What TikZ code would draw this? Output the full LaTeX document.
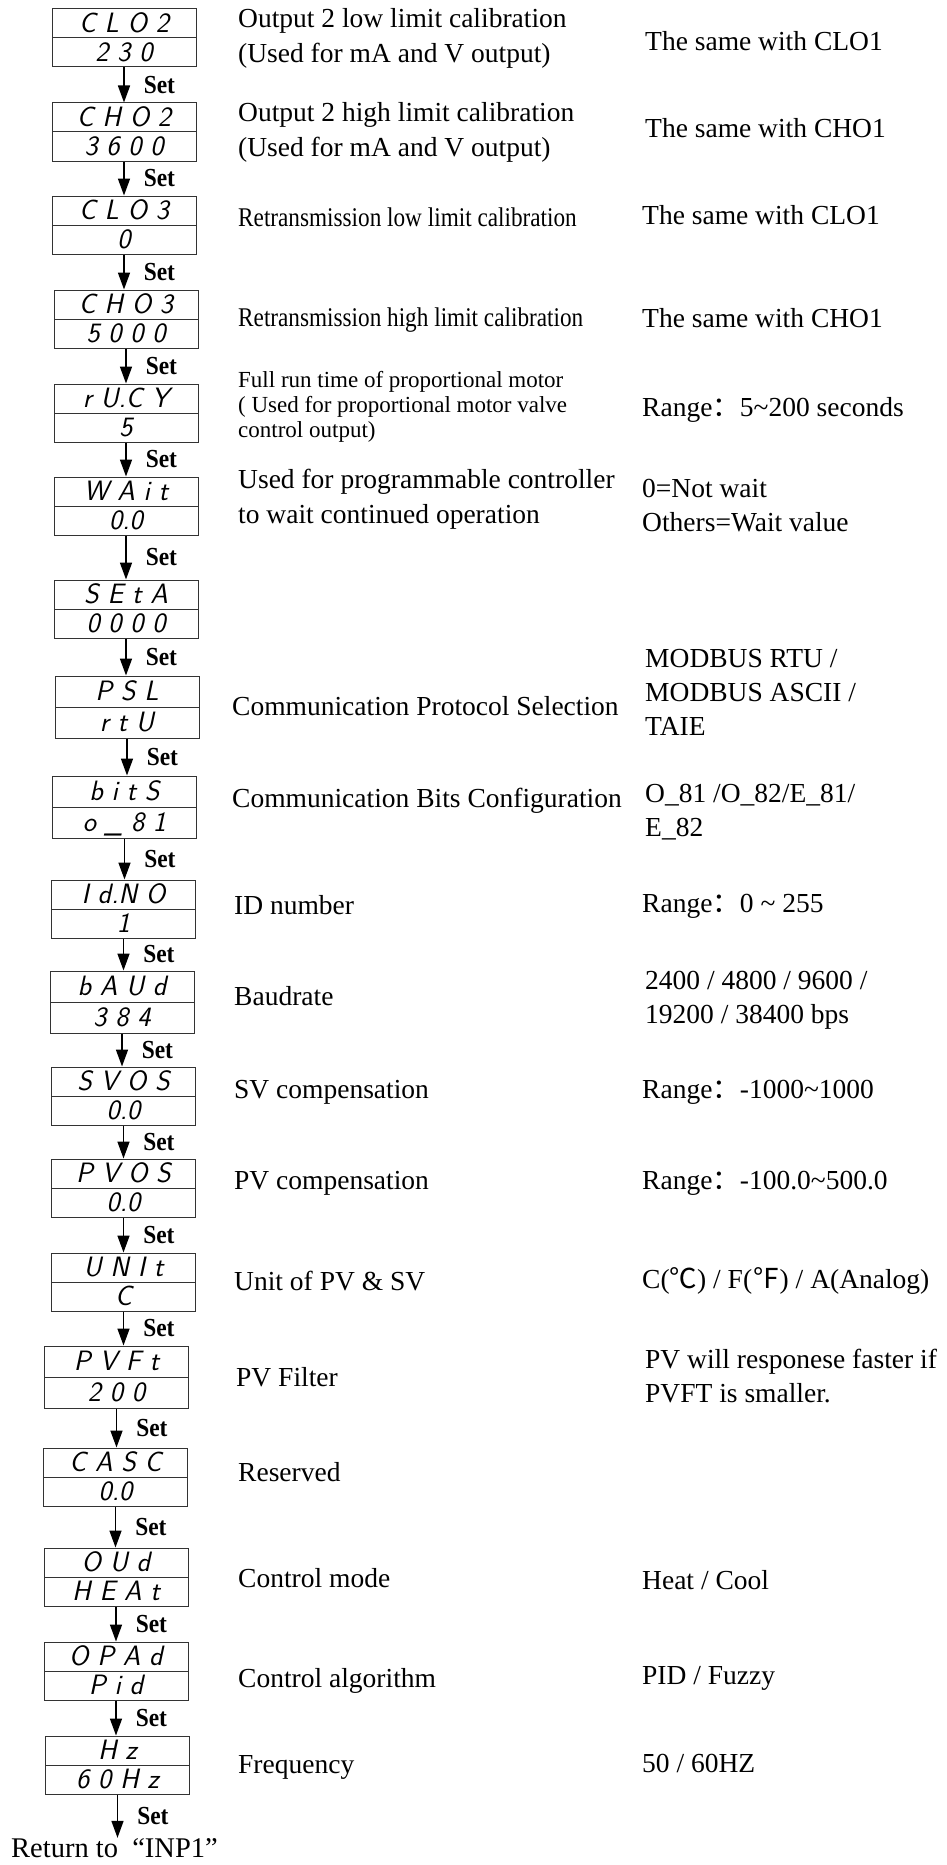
\documentclass[tikz,border=0pt]{standalone}
\usepackage{fontspec}
\setmainfont{Liberation Serif}
\newfontfamily\narrowfont[FakeStretch=0.86]{Liberation Serif}
\newfontfamily\setfont[FakeStretch=0.9]{Liberation Serif}
\newfontfamily\cjk{Noto Sans CJK SC}
\usetikzlibrary{arrows.meta,shapes.multipart}
\newcommand{\dstrut}{\rule[-5pt]{0pt}{28pt}}
\newcommand{\tstrut}{\rule[-6pt]{0pt}{30pt}}
\newcommand{\fwc}{{\cjk ：}}

\begin{document}
\begin{tikzpicture}[x=1pt,y=-1pt,
  disp/.style={rectangle split,rectangle split parts=2,draw=black!80,line width=1pt,
    minimum width=144pt,inner xsep=0pt,inner ysep=0pt,
    font=\sffamily\slshape\fontsize{28}{28}\selectfont},
  setarrow/.style={line width=1.6pt,-{Triangle[length=17pt,width=12pt]}},
  setlbl/.style={anchor=west,xshift=19pt,inner sep=0pt,
    font=\setfont\bfseries\fontsize{26}{26}\selectfont},
  desc/.style={anchor=west,align=left,inner sep=0pt,font=\fontsize{27.5}{35}\selectfont},
  narrow/.style={desc,font=\narrowfont\fontsize{27}{33}\selectfont},
  small/.style={desc,font=\fontsize{23}{25}\selectfont},
  value/.style={desc,font=\fontsize{27.5}{34}\selectfont}]
  \path[use as bounding box,fill=white] (0,0) rectangle (946,1865);

  % displays
  \node[disp] (d1)  at (124,38)    {\dstrut C L O 2\nodepart{two}\dstrut 2 3 0};
  \node[disp] (d2)  at (124,132)   {\dstrut C H O 2\nodepart{two}\dstrut 3 6 0 0};
  \node[disp] (d3)  at (124,225)   {\dstrut C L O 3\nodepart{two}\dstrut 0};
  \node[disp] (d4)  at (126,319)   {\dstrut C H O 3\nodepart{two}\dstrut 5 0 0 0};
  \node[disp] (d5)  at (126,413)   {\dstrut r U.C Y\nodepart{two}\dstrut 5};
  \node[disp] (d6)  at (126,506)   {\dstrut W A i t\nodepart{two}\dstrut 0.0};
  \node[disp] (d7)  at (126,609)   {\dstrut S E t A\nodepart{two}\dstrut 0 0 0 0};
  \node[disp] (d8)  at (127,707)   {\tstrut P S L\nodepart{two}\tstrut r t U};
  \node[disp] (d9)  at (124.5,807) {\tstrut b i t S\nodepart{two}\tstrut o \_ 8 1};
  \node[disp] (d10) at (123.5,909) {\dstrut I d.N O\nodepart{two}\dstrut 1};
  \node[disp] (d11) at (122,1002)  {\tstrut b A U d\nodepart{two}\tstrut 3 8 4};
  \node[disp] (d12) at (123.5,1096){\dstrut S V O S\nodepart{two}\dstrut 0.0};
  \node[disp] (d13) at (123.5,1188){\dstrut P V O S\nodepart{two}\dstrut 0.0};
  \node[disp] (d14) at (123.5,1282){\dstrut U N I t\nodepart{two}\dstrut C};
  \node[disp] (d15) at (116.5,1377){\tstrut P V F t\nodepart{two}\tstrut 2 0 0};
  \node[disp] (d16) at (115.5,1477){\dstrut C A S C\nodepart{two}\dstrut 0.0};
  \node[disp] (d17) at (116,1577)  {\dstrut O U d\nodepart{two}\dstrut H E A t};
  \node[disp] (d18) at (116,1671)  {\dstrut O P A d\nodepart{two}\dstrut P i d};
  \node[disp] (d19) at (117.5,1765){\dstrut H z\nodepart{two}\dstrut 6 0 H z};
  \node[desc,anchor=base west,inner sep=0pt,font=\fontsize{28.5}{35}\selectfont] (ret) at (11,1857)
    {Return to\ \ “INP1”};

  % set arrows
  \draw[setarrow] (d1.south)  -- (d1.south |- d2.north)   node[midway,setlbl] (s1) {Set};
  \draw[setarrow] (d2.south)  -- (d2.south |- d3.north)   node[midway,setlbl] (s2) {Set};
  \draw[setarrow] (d3.south)  -- (d3.south |- d4.north)   node[midway,setlbl] (s3) {Set};
  \draw[setarrow] (d4.south)  -- (d4.south |- d5.north)   node[midway,setlbl] (s4) {Set};
  \draw[setarrow] (d5.south)  -- (d5.south |- d6.north)   node[midway,setlbl] (s5) {Set};
  \draw[setarrow] (d6.south)  -- (d6.south |- d7.north)   node[midway,setlbl] (s6) {Set};
  \draw[setarrow] (d7.south)  -- (d7.south |- d8.north)   node[midway,setlbl] (s7) {Set};
  \draw[setarrow] (d8.south)  -- (d8.south |- d9.north)   node[midway,setlbl] (s8) {Set};
  \draw[setarrow] (d9.south)  -- (d9.south |- d10.north)  node[midway,setlbl] (s9) {Set};
  \draw[setarrow] (d10.south) -- (d10.south |- d11.north) node[midway,setlbl] (s10) {Set};
  \draw[setarrow] (d11.south) -- (d11.south |- d12.north) node[midway,setlbl] (s11) {Set};
  \draw[setarrow] (d12.south) -- (d12.south |- d13.north) node[midway,setlbl] (s12) {Set};
  \draw[setarrow] (d13.south) -- (d13.south |- d14.north) node[midway,setlbl] (s13) {Set};
  \draw[setarrow] (d14.south) -- (d14.south |- d15.north) node[midway,setlbl] (s14) {Set};
  \draw[setarrow] (d15.south) -- (d15.south |- d16.north) node[midway,setlbl] (s15) {Set};
  \draw[setarrow] (d16.south) -- (d16.south |- d17.north) node[midway,setlbl] (s16) {Set};
  \draw[setarrow] (d17.south) -- (d17.south |- d18.north) node[midway,setlbl] (s17) {Set};
  \draw[setarrow] (d18.south) -- (d18.south |- d19.north) node[midway,setlbl] (s18) {Set};
  \draw[setarrow] (d19.south) -- (d19.south |- ret.north) node[midway,setlbl] (s19) {Set};

  % descriptions
  \node[desc]   (t1)  at (238,38)   {Output 2 low limit calibration\\(Used for mA and V output)};
  \node[desc]   (t2)  at (238,132)  {Output 2 high limit calibration\\(Used for mA and V output)};
  \node[narrow] (t3)  at (238,217)  {Retransmission low limit calibration};
  \node[narrow] (t4)  at (238,320)  {Retransmission high limit calibration};
  \node[small]  (t5)  at (238,407)  {Full run time of proportional motor\\( Used for proportional motor valve\\control output)};
  \node[desc]   (t6)  at (238,499)  {Used for programmable controller\\to wait continued operation};
  \node[desc]   (t8)  at (232,706)  {Communication Protocol Selection};
  \node[desc]   (t9)  at (232,801)  {Communication Bits Configuration};
  \node[desc]   (t10) at (234,905)  {ID number};
  \node[desc]   (t11) at (234,996)  {Baudrate};
  \node[desc]   (t12) at (234,1092) {SV compensation};
  \node[desc]   (t13) at (234,1183) {PV compensation};
  \node[desc]   (t14) at (234,1281) {Unit of PV \& SV};
  \node[desc]   (t15) at (236,1377) {PV Filter};
  \node[desc]   (t16) at (238,1472) {Reserved};
  \node[desc]   (t17) at (238,1578) {Control mode};
  \node[desc]   (t18) at (238,1681) {Control algorithm};
  \node[desc]   (t19) at (238,1767) {Frequency};

  % values
  \node[value] (v1)  at (645,41)   {The same with CLO1};
  \node[value] (v2)  at (645,128)  {The same with CHO1};
  \node[value] (v3)  at (642,215)  {The same with CLO1};
  \node[value] (v4)  at (642,318)  {The same with CHO1};
  \node[value] (v5)  at (642,410)  {Range\fwc 5\textasciitilde 200 seconds};
  \node[value] (v6)  at (642,506)  {0=Not wait\\Others=Wait value};
  \node[value] (v8)  at (645,692)  {MODBUS RTU /\\MODBUS ASCII /\\TAIE};
  \node[value] (v9)  at (645,812)  {O\_81 /O\_82/E\_81/\\E\_82};
  \node[value] (v10) at (642,906)  {Range\fwc 0 \textasciitilde\ 255};
  \node[value] (v11) at (645,1000) {2400 / 4800 / 9600 /\\19200 / 38400 bps};
  \node[value] (v12) at (642,1092) {Range\fwc -1000\textasciitilde 1000};
  \node[value] (v13) at (642,1183) {Range\fwc -100.0\textasciitilde 500.0};
  \node[value] (v14) at (642,1281) {C({\cjk ℃}) / F({\cjk ℉}) / A(Analog)};
  \node[value] (v15) at (645,1376) {PV will responese faster if\\PVFT is smaller.};
  \node[value] (v17) at (642,1580) {Heat / Cool};
  \node[value] (v18) at (642,1678) {PID / Fuzzy};
  \node[value] (v19) at (642,1763) {50 / 60HZ};
\end{tikzpicture}
\end{document}
